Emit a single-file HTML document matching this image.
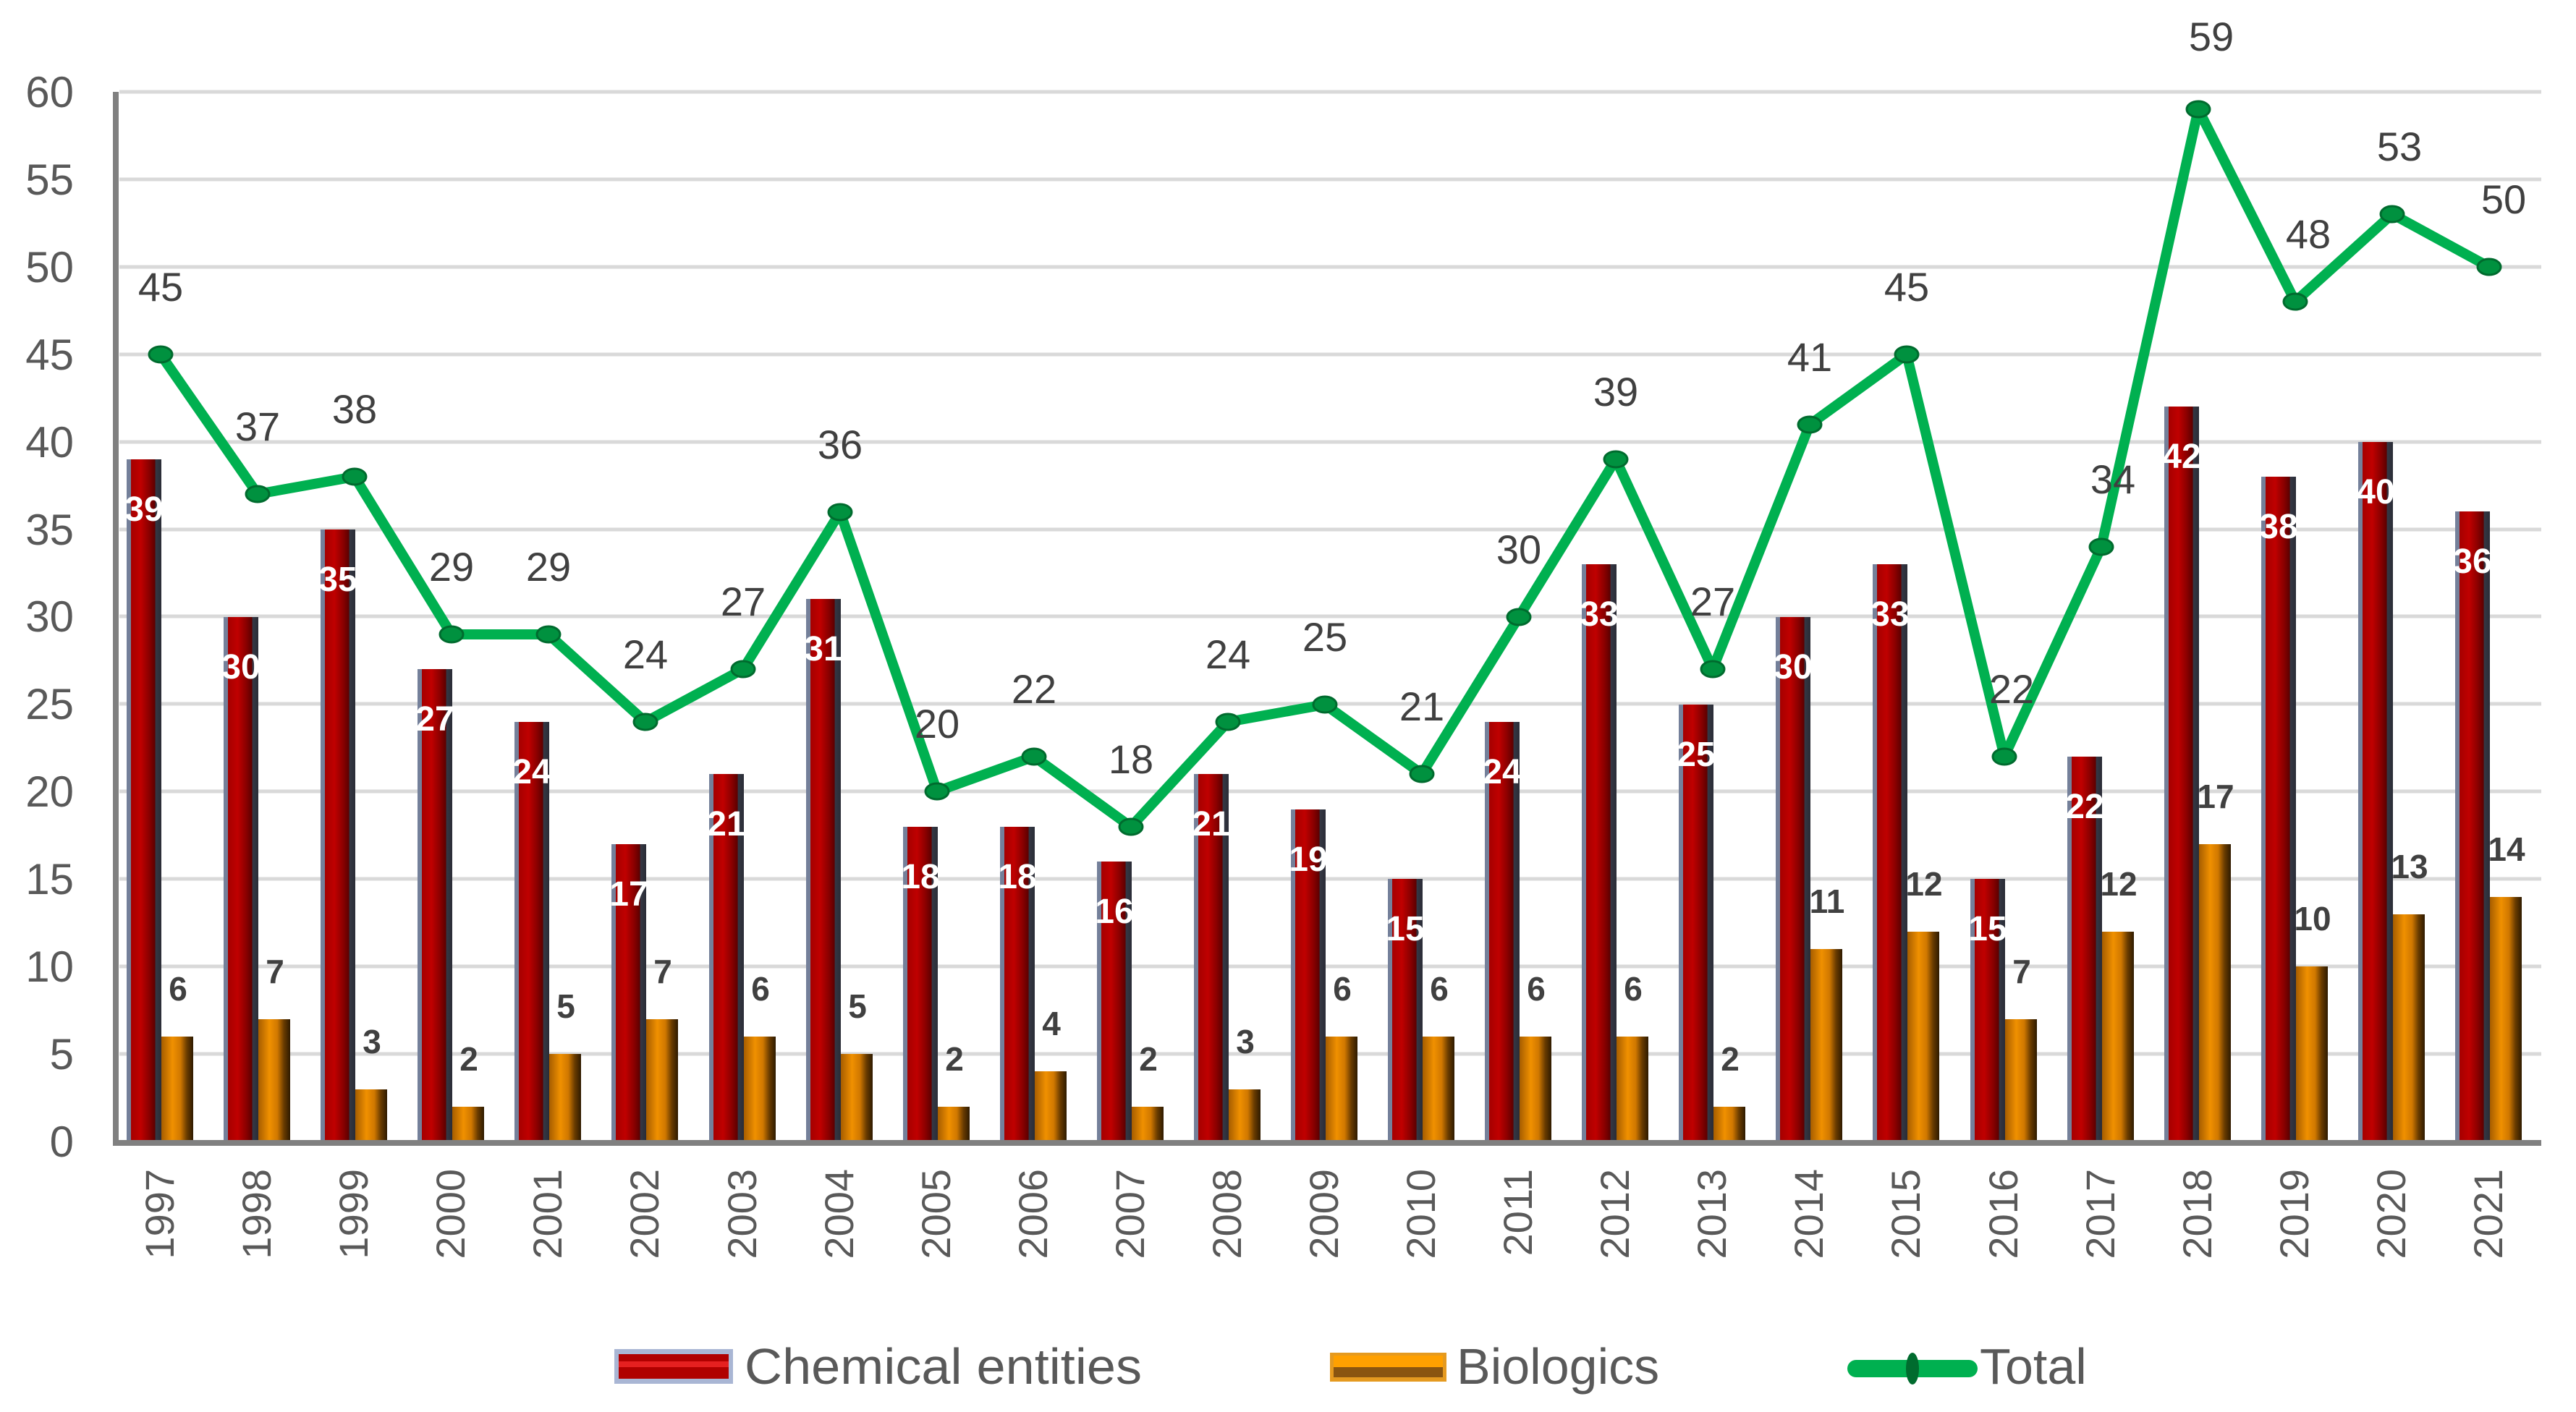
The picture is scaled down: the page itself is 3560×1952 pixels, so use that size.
<!DOCTYPE html>
<html><head><meta charset="utf-8"><style>html,body{margin:0;padding:0;background:#fff}svg{display:block}</style></head>
<body>
<svg width="3560" height="1952" viewBox="0 0 3560 1952" xmlns="http://www.w3.org/2000/svg" font-family="Liberation Sans, Arial, sans-serif">
<defs>
<linearGradient id="rg" x1="0" x2="1" y1="0" y2="0">
<stop offset="0" stop-color="#74809a"/><stop offset="0.12" stop-color="#74809a"/><stop offset="0.13" stop-color="#a50000"/><stop offset="0.4" stop-color="#c00000"/><stop offset="0.65" stop-color="#8a0000"/><stop offset="0.82" stop-color="#5c0000"/><stop offset="0.83" stop-color="#353845"/><stop offset="1" stop-color="#2a2c36"/>
</linearGradient>
<linearGradient id="og" x1="0" x2="1" y1="0" y2="0">
<stop offset="0" stop-color="#a65d00"/><stop offset="0.35" stop-color="#f09000"/><stop offset="0.6" stop-color="#d07800"/><stop offset="0.8" stop-color="#6a3c00"/><stop offset="1" stop-color="#2e1a00"/>
</linearGradient>
</defs>
<g stroke="#d9d9d9" stroke-width="5">
<line x1="165" x2="3512" y1="127" y2="127"/><line x1="165" x2="3512" y1="248" y2="248"/><line x1="165" x2="3512" y1="369" y2="369"/><line x1="165" x2="3512" y1="490" y2="490"/><line x1="165" x2="3512" y1="611" y2="611"/><line x1="165" x2="3512" y1="732" y2="732"/><line x1="165" x2="3512" y1="852" y2="852"/><line x1="165" x2="3512" y1="973" y2="973"/><line x1="165" x2="3512" y1="1094" y2="1094"/><line x1="165" x2="3512" y1="1215" y2="1215"/><line x1="165" x2="3512" y1="1336" y2="1336"/><line x1="165" x2="3512" y1="1457" y2="1457"/>
</g>
<g font-size="60" fill="#595959" text-anchor="end">
<text x="102" y="148">60</text><text x="102" y="269">55</text><text x="102" y="390">50</text><text x="102" y="511">45</text><text x="102" y="632">40</text><text x="102" y="753">35</text><text x="102" y="873">30</text><text x="102" y="994">25</text><text x="102" y="1115">20</text><text x="102" y="1236">15</text><text x="102" y="1357">10</text><text x="102" y="1478">5</text><text x="102" y="1599">0</text>
</g>
<g>
<rect x="175" y="635" width="48" height="943" fill="url(#rg)"/><rect x="223" y="1433" width="44" height="145" fill="url(#og)"/>
<rect x="309" y="853" width="48" height="725" fill="url(#rg)"/><rect x="357" y="1409" width="44" height="169" fill="url(#og)"/>
<rect x="443" y="732" width="48" height="846" fill="url(#rg)"/><rect x="491" y="1506" width="44" height="72" fill="url(#og)"/>
<rect x="577" y="925" width="48" height="653" fill="url(#rg)"/><rect x="625" y="1530" width="44" height="48" fill="url(#og)"/>
<rect x="711" y="998" width="48" height="580" fill="url(#rg)"/><rect x="759" y="1457" width="44" height="121" fill="url(#og)"/>
<rect x="845" y="1167" width="48" height="411" fill="url(#rg)"/><rect x="893" y="1409" width="44" height="169" fill="url(#og)"/>
<rect x="980" y="1070" width="48" height="508" fill="url(#rg)"/><rect x="1028" y="1433" width="44" height="145" fill="url(#og)"/>
<rect x="1114" y="828" width="48" height="750" fill="url(#rg)"/><rect x="1162" y="1457" width="44" height="121" fill="url(#og)"/>
<rect x="1248" y="1143" width="48" height="435" fill="url(#rg)"/><rect x="1296" y="1530" width="44" height="48" fill="url(#og)"/>
<rect x="1382" y="1143" width="48" height="435" fill="url(#rg)"/><rect x="1430" y="1481" width="44" height="97" fill="url(#og)"/>
<rect x="1516" y="1191" width="48" height="387" fill="url(#rg)"/><rect x="1564" y="1530" width="44" height="48" fill="url(#og)"/>
<rect x="1650" y="1070" width="48" height="508" fill="url(#rg)"/><rect x="1698" y="1506" width="44" height="72" fill="url(#og)"/>
<rect x="1784" y="1119" width="48" height="459" fill="url(#rg)"/><rect x="1832" y="1433" width="44" height="145" fill="url(#og)"/>
<rect x="1918" y="1215" width="48" height="363" fill="url(#rg)"/><rect x="1966" y="1433" width="44" height="145" fill="url(#og)"/>
<rect x="2052" y="998" width="48" height="580" fill="url(#rg)"/><rect x="2100" y="1433" width="44" height="145" fill="url(#og)"/>
<rect x="2186" y="780" width="48" height="798" fill="url(#rg)"/><rect x="2234" y="1433" width="44" height="145" fill="url(#og)"/>
<rect x="2320" y="974" width="48" height="604" fill="url(#rg)"/><rect x="2368" y="1530" width="44" height="48" fill="url(#og)"/>
<rect x="2454" y="853" width="48" height="725" fill="url(#rg)"/><rect x="2502" y="1312" width="44" height="266" fill="url(#og)"/>
<rect x="2588" y="780" width="48" height="798" fill="url(#rg)"/><rect x="2636" y="1288" width="44" height="290" fill="url(#og)"/>
<rect x="2723" y="1215" width="48" height="363" fill="url(#rg)"/><rect x="2771" y="1409" width="44" height="169" fill="url(#og)"/>
<rect x="2857" y="1046" width="48" height="532" fill="url(#rg)"/><rect x="2905" y="1288" width="44" height="290" fill="url(#og)"/>
<rect x="2991" y="562" width="48" height="1016" fill="url(#rg)"/><rect x="3039" y="1167" width="44" height="411" fill="url(#og)"/>
<rect x="3125" y="659" width="48" height="919" fill="url(#rg)"/><rect x="3173" y="1336" width="44" height="242" fill="url(#og)"/>
<rect x="3259" y="611" width="48" height="967" fill="url(#rg)"/><rect x="3307" y="1264" width="44" height="314" fill="url(#og)"/>
<rect x="3393" y="707" width="48" height="871" fill="url(#rg)"/><rect x="3441" y="1240" width="44" height="338" fill="url(#og)"/>
</g>
<g stroke="#808080" stroke-width="8"><line x1="160" y1="127" x2="160" y2="1582"/><line x1="156" y1="1580" x2="3512" y2="1580"/></g>
<g font-size="48" font-weight="bold" fill="#fff" text-anchor="middle">
<text x="199" y="720">39</text><text x="333" y="938">30</text><text x="467" y="817">35</text><text x="601" y="1010">27</text><text x="735" y="1083">24</text><text x="869" y="1252">17</text><text x="1004" y="1155">21</text><text x="1138" y="913">31</text><text x="1272" y="1228">18</text><text x="1406" y="1228">18</text><text x="1540" y="1276">16</text><text x="1674" y="1155">21</text><text x="1808" y="1204">19</text><text x="1942" y="1300">15</text><text x="2076" y="1083">24</text><text x="2210" y="865">33</text><text x="2344" y="1059">25</text><text x="2478" y="938">30</text><text x="2612" y="865">33</text><text x="2747" y="1300">15</text><text x="2881" y="1131">22</text><text x="3015" y="647">42</text><text x="3149" y="744">38</text><text x="3283" y="696">40</text><text x="3417" y="792">36</text>
</g>
<g font-size="46" font-weight="bold" fill="#404040" text-anchor="middle">
<text x="246" y="1383">6</text><text x="380" y="1359">7</text><text x="514" y="1456">3</text><text x="648" y="1480">2</text><text x="782" y="1407">5</text><text x="916" y="1359">7</text><text x="1051" y="1383">6</text><text x="1185" y="1407">5</text><text x="1319" y="1480">2</text><text x="1453" y="1431">4</text><text x="1587" y="1480">2</text><text x="1721" y="1456">3</text><text x="1855" y="1383">6</text><text x="1989" y="1383">6</text><text x="2123" y="1383">6</text><text x="2257" y="1383">6</text><text x="2391" y="1480">2</text><text x="2525" y="1262">11</text><text x="2659" y="1238">12</text><text x="2794" y="1359">7</text><text x="2928" y="1238">12</text><text x="3062" y="1117">17</text><text x="3196" y="1286">10</text><text x="3330" y="1214">13</text><text x="3464" y="1190">14</text>
</g>
<polyline fill="none" stroke="#00b050" stroke-width="14" stroke-linejoin="round" points="222,490 356,683 490,659 624,877 758,877 892,998 1027,925 1161,708 1295,1094 1429,1046 1563,1143 1697,998 1831,974 1965,1070 2099,853 2233,635 2367,925 2501,587 2635,490 2770,1046 2904,756 3038,151 3172,417 3306,296 3440,369"/>
<g fill="#00913f" stroke="#006b2e" stroke-width="3">
<ellipse cx="222" cy="490" rx="16" ry="11"/><ellipse cx="356" cy="683" rx="16" ry="11"/><ellipse cx="490" cy="659" rx="16" ry="11"/><ellipse cx="624" cy="877" rx="16" ry="11"/><ellipse cx="758" cy="877" rx="16" ry="11"/><ellipse cx="892" cy="998" rx="16" ry="11"/><ellipse cx="1027" cy="925" rx="16" ry="11"/><ellipse cx="1161" cy="708" rx="16" ry="11"/><ellipse cx="1295" cy="1094" rx="16" ry="11"/><ellipse cx="1429" cy="1046" rx="16" ry="11"/><ellipse cx="1563" cy="1143" rx="16" ry="11"/><ellipse cx="1697" cy="998" rx="16" ry="11"/><ellipse cx="1831" cy="974" rx="16" ry="11"/><ellipse cx="1965" cy="1070" rx="16" ry="11"/><ellipse cx="2099" cy="853" rx="16" ry="11"/><ellipse cx="2233" cy="635" rx="16" ry="11"/><ellipse cx="2367" cy="925" rx="16" ry="11"/><ellipse cx="2501" cy="587" rx="16" ry="11"/><ellipse cx="2635" cy="490" rx="16" ry="11"/><ellipse cx="2770" cy="1046" rx="16" ry="11"/><ellipse cx="2904" cy="756" rx="16" ry="11"/><ellipse cx="3038" cy="151" rx="16" ry="11"/><ellipse cx="3172" cy="417" rx="16" ry="11"/><ellipse cx="3306" cy="296" rx="16" ry="11"/><ellipse cx="3440" cy="369" rx="16" ry="11"/>
</g>
<g font-size="56" fill="#404040" text-anchor="middle">
<text x="222" y="416">45</text><text x="356" y="609">37</text><text x="490" y="585">38</text><text x="624" y="803">29</text><text x="758" y="803">29</text><text x="892" y="924">24</text><text x="1027" y="851">27</text><text x="1161" y="634">36</text><text x="1295" y="1020">20</text><text x="1429" y="972">22</text><text x="1563" y="1069">18</text><text x="1697" y="924">24</text><text x="1831" y="900">25</text><text x="1965" y="996">21</text><text x="2099" y="779">30</text><text x="2233" y="561">39</text><text x="2367" y="851">27</text><text x="2501" y="513">41</text><text x="2635" y="416">45</text><text x="2780" y="972">22</text><text x="2920" y="682">34</text><text x="3056" y="70">59</text><text x="3190" y="343">48</text><text x="3316" y="222">53</text><text x="3460" y="295">50</text>
</g>
<g font-size="56" fill="#595959" text-anchor="end">
<text transform="translate(240,1616) rotate(-90)">1997</text><text transform="translate(374,1616) rotate(-90)">1998</text><text transform="translate(508,1616) rotate(-90)">1999</text><text transform="translate(642,1616) rotate(-90)">2000</text><text transform="translate(776,1616) rotate(-90)">2001</text><text transform="translate(910,1616) rotate(-90)">2002</text><text transform="translate(1045,1616) rotate(-90)">2003</text><text transform="translate(1179,1616) rotate(-90)">2004</text><text transform="translate(1313,1616) rotate(-90)">2005</text><text transform="translate(1447,1616) rotate(-90)">2006</text><text transform="translate(1581,1616) rotate(-90)">2007</text><text transform="translate(1715,1616) rotate(-90)">2008</text><text transform="translate(1849,1616) rotate(-90)">2009</text><text transform="translate(1983,1616) rotate(-90)">2010</text><text transform="translate(2117,1616) rotate(-90)">2011</text><text transform="translate(2251,1616) rotate(-90)">2012</text><text transform="translate(2385,1616) rotate(-90)">2013</text><text transform="translate(2519,1616) rotate(-90)">2014</text><text transform="translate(2653,1616) rotate(-90)">2015</text><text transform="translate(2788,1616) rotate(-90)">2016</text><text transform="translate(2922,1616) rotate(-90)">2017</text><text transform="translate(3056,1616) rotate(-90)">2018</text><text transform="translate(3190,1616) rotate(-90)">2019</text><text transform="translate(3324,1616) rotate(-90)">2020</text><text transform="translate(3458,1616) rotate(-90)">2021</text>
</g>
<rect x="849" y="1865" width="164" height="48" fill="#a9b6d4"/><rect x="855" y="1872" width="152" height="34" fill="#b00000"/><rect x="855" y="1882" width="152" height="8" fill="#e52020"/>
<rect x="1838" y="1870" width="161" height="40" fill="#e59a20"/><rect x="1843" y="1874" width="151" height="16" fill="#ffa000"/><rect x="1843" y="1890" width="151" height="14" fill="#8a5510"/>
<rect x="2553" y="1880" width="180" height="24" rx="12" fill="#00b050"/><ellipse cx="2643" cy="1892" rx="9" ry="22" fill="#006b2e"/>
<g font-size="70" fill="#595959">
<text x="1029" y="1913" textLength="549" lengthAdjust="spacingAndGlyphs">Chemical entities</text><text x="2013" y="1913">Biologics</text><text x="2736" y="1913">Total</text>
</g>
</svg>
</body></html>
